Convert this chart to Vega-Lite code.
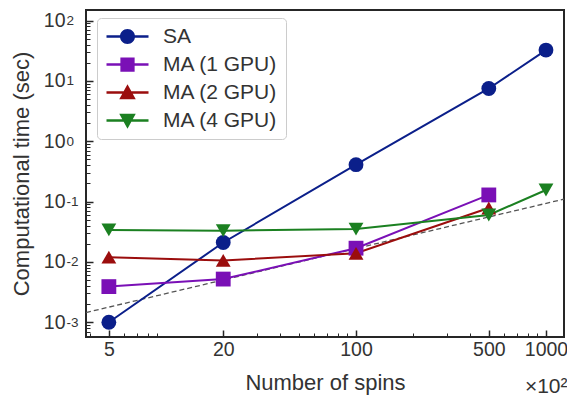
{
  "$schema": "https://vega.github.io/schema/vega-lite/v6.json",
  "width": 478,
  "height": 327,
  "autosize": "none",
  "padding": {"left": 86, "top": 10, "right": 3, "bottom": 61},
  "background": "white",
  "config": {
    "font": "Liberation Sans",
    "view": {"stroke": "#262626", "strokeWidth": 2},
    "axis": {
      "grid": false,
      "labelColor": "#333333",
      "titleColor": "#333333",
      "labelFont": "Liberation Sans",
      "titleFont": "Liberation Sans",
      "titleFontWeight": "normal",
      "labelFlush": false,
      "labelOverlap": false
    }
  },
  "datasets": {
    "timing": [
      {"series": "SA", "spins": 5, "time": 0.001},
      {"series": "SA", "spins": 20, "time": 0.021},
      {"series": "SA", "spins": 100, "time": 0.41},
      {"series": "SA", "spins": 500, "time": 7.5},
      {"series": "SA", "spins": 1000, "time": 32.5},
      {"series": "MA (1 GPU)", "spins": 5, "time": 0.0039},
      {"series": "MA (1 GPU)", "spins": 20, "time": 0.0052},
      {"series": "MA (1 GPU)", "spins": 100, "time": 0.0169},
      {"series": "MA (1 GPU)", "spins": 500, "time": 0.129},
      {"series": "MA (2 GPU)", "spins": 5, "time": 0.012},
      {"series": "MA (2 GPU)", "spins": 20, "time": 0.0106},
      {"series": "MA (2 GPU)", "spins": 100, "time": 0.0139},
      {"series": "MA (2 GPU)", "spins": 500, "time": 0.0785},
      {"series": "MA (4 GPU)", "spins": 5, "time": 0.034},
      {"series": "MA (4 GPU)", "spins": 20, "time": 0.033},
      {"series": "MA (4 GPU)", "spins": 100, "time": 0.035},
      {"series": "MA (4 GPU)", "spins": 500, "time": 0.06},
      {"series": "MA (4 GPU)", "spins": 1000, "time": 0.156}
    ],
    "guide": [
      {"spins": 3.79, "time": 0.00145},
      {"spins": 1244, "time": 0.11}
    ]
  },
  "resolve": {
    "scale": {"color": "independent", "shape": "independent"},
    "axis": {"x": "independent", "y": "independent"}
  },
  "layer": [
    {
      "data": {"name": "guide"},
      "mark": {"type": "line", "color": "#555555", "strokeDash": [5, 3], "strokeWidth": 1.3},
      "encoding": {
        "x": {
          "field": "spins", "type": "quantitative",
          "scale": {"type": "log", "domain": [3.79, 1244], "nice": false},
          "axis": {
            "orient": "bottom",
            "values": [5, 20, 100, 500, 1000],
            "format": "d",
            "domain": false,
            "ticks": false,
            "labelFontSize": 19.5,
            "labelPadding": 3,
            "title": "Number of spins",
            "titleFontSize": 22,
            "titleY": 52,
            "titleBaseline": "alphabetic"
          }
        },
        "y": {
          "field": "time", "type": "quantitative",
          "scale": {"type": "log", "domain": [0.00057, 150], "nice": false},
          "axis": {
            "orient": "left",
            "values": [0.001, 0.01, 0.1, 1, 10, 100],
            "domain": false,
            "ticks": false,
            "labelExpr": "'10'",
            "labelFontSize": 19.5,
            "labelAlign": "right",
            "labelPadding": 21,
            "labelDy": 5,
            "title": "Computational time (sec)",
            "titleFontSize": 22,
            "titleX": -53,
            "titleBaseline": "bottom"
          }
        }
      }
    },
    {
      "data": {"name": "timing"},
      "mark": {"type": "line", "strokeWidth": 2},
      "encoding": {
        "x": {
          "field": "spins", "type": "quantitative",
          "axis": {
            "orient": "bottom", "offset": -7, "zindex": 1,
            "values": [5, 20, 100, 500, 1000],
            "domain": false, "ticks": true, "tickSize": 7, "tickWidth": 1.5, "tickColor": "#262626",
            "labels": false, "title": null
          }
        },
        "y": {
          "field": "time", "type": "quantitative",
          "axis": {
            "orient": "left",
            "values": [0.001, 0.01, 0.1, 1, 10, 100],
            "domain": false,
            "ticks": false,
            "labelExpr": "'' + round(log(datum.value) / LN10)",
            "labelFontSize": 13.5,
            "labelAlign": "left",
            "labelPadding": 20,
            "labelDy": -8,
            "title": null
          }
        },
        "color": {
          "field": "series", "type": "nominal",
          "scale": {"domain": ["SA", "MA (1 GPU)", "MA (2 GPU)", "MA (4 GPU)"], "range": ["#0b1f8a", "#7a10b6", "#9b0d0d", "#1b8021"]},
          "legend": null
        },
        "order": {"field": "spins", "type": "quantitative"}
      }
    },
    {
      "data": {"name": "timing"},
      "mark": {"type": "point", "filled": true, "opacity": 1, "size": 220},
      "encoding": {
        "x": {
          "field": "spins", "type": "quantitative",
          "axis": {
            "orient": "bottom", "offset": -4, "zindex": 1,
            "values": [4, 6, 7, 8, 9, 30, 40, 50, 60, 70, 80, 90, 200, 300, 400, 600, 700, 800, 900],
            "domain": false, "ticks": true, "tickSize": 4, "tickWidth": 1, "tickColor": "#262626",
            "labels": false,
            "title": "×10²",
            "titleFontSize": 21,
            "titleAlign": "right",
            "titleX": 481,
            "titleY": 59,
            "titleBaseline": "alphabetic"
          }
        },
        "y": {
          "field": "time", "type": "quantitative",
          "axis": {
            "orient": "left", "offset": -7, "zindex": 1,
            "values": [0.001, 0.01, 0.1, 1, 10, 100],
            "domain": false, "ticks": true, "tickSize": 7, "tickWidth": 1.5, "tickColor": "#262626",
            "labels": false, "title": null
          }
        },
        "color": {
          "field": "series", "type": "nominal",
          "scale": {"domain": ["SA", "MA (1 GPU)", "MA (2 GPU)", "MA (4 GPU)"], "range": ["#0b1f8a", "#7a10b6", "#9b0d0d", "#1b8021"]},
          "legend": null
        },
        "shape": {
          "field": "series", "type": "nominal",
          "scale": {"domain": ["SA", "MA (1 GPU)", "MA (2 GPU)", "MA (4 GPU)"], "range": ["circle", "square", "triangle-up", "triangle-down"]},
          "legend": null
        }
      }
    },
    {
      "data": {"name": "timing"},
      "transform": [{"filter": "false"}],
      "mark": {"type": "point", "filled": true, "opacity": 1},
      "encoding": {
        "x": {"field": "spins", "type": "quantitative", "axis": null},
        "y": {
          "field": "time", "type": "quantitative",
          "axis": {
            "orient": "left", "offset": -4, "zindex": 1,
            "values": [0.0006, 0.0007, 0.0008, 0.0009, 0.002, 0.003, 0.004, 0.005, 0.006, 0.007, 0.008, 0.009, 0.02, 0.03, 0.04, 0.05, 0.06, 0.07, 0.08, 0.09, 0.2, 0.3, 0.4, 0.5, 0.6, 0.7, 0.8, 0.9, 2, 3, 4, 5, 6, 7, 8, 9, 20, 30, 40, 50, 60, 70, 80, 90],
            "domain": false, "ticks": true, "tickSize": 4, "tickWidth": 1, "tickColor": "#262626",
            "labels": false, "title": null
          }
        },
        "color": {
          "field": "series", "type": "nominal",
          "scale": {"domain": ["SA", "MA (1 GPU)", "MA (2 GPU)", "MA (4 GPU)"], "range": ["#0b1f8a", "#7a10b6", "#9b0d0d", "#1b8021"]},
          "legend": {
            "orient": "none", "legendX": 11, "legendY": 8, "title": null,
            "labelFontSize": 21, "labelColor": "#333333", "labelFont": "Liberation Sans", "labelLimit": 0,
            "symbolSize": 225, "symbolStrokeWidth": 0, "symbolOffset": 12, "labelOffset": 25,
            "padding": 8, "rowPadding": 6, "strokeColor": "#cccccc", "fillColor": "white", "cornerRadius": 4
          }
        },
        "shape": {
          "field": "series", "type": "nominal",
          "scale": {"domain": ["SA", "MA (1 GPU)", "MA (2 GPU)", "MA (4 GPU)"], "range": [
            "M-2.8,-0.16H2.8V0.16H-2.8Z M1,0A1,1 0 1,1 -1,0A1,1 0 1,1 1,0Z",
            "M-2.8,-0.16H2.8V0.16H-2.8Z M-0.95,-0.95H0.95V0.95H-0.95Z",
            "M-2.8,-0.16H2.8V0.16H-2.8Z M0,-1.1L1.1,0.9H-1.1Z",
            "M-2.8,-0.16H2.8V0.16H-2.8Z M-1.1,-0.9H1.1L0,1.1Z"
          ]},
          "legend": {
            "orient": "none", "legendX": 11, "legendY": 8, "title": null,
            "labelFontSize": 21, "labelColor": "#333333", "labelFont": "Liberation Sans", "labelLimit": 0,
            "symbolSize": 225, "symbolStrokeWidth": 0, "symbolOffset": 12, "labelOffset": 25,
            "padding": 8, "rowPadding": 6, "strokeColor": "#cccccc", "fillColor": "white", "cornerRadius": 4
          }
        }
      }
    }
  ]
}
